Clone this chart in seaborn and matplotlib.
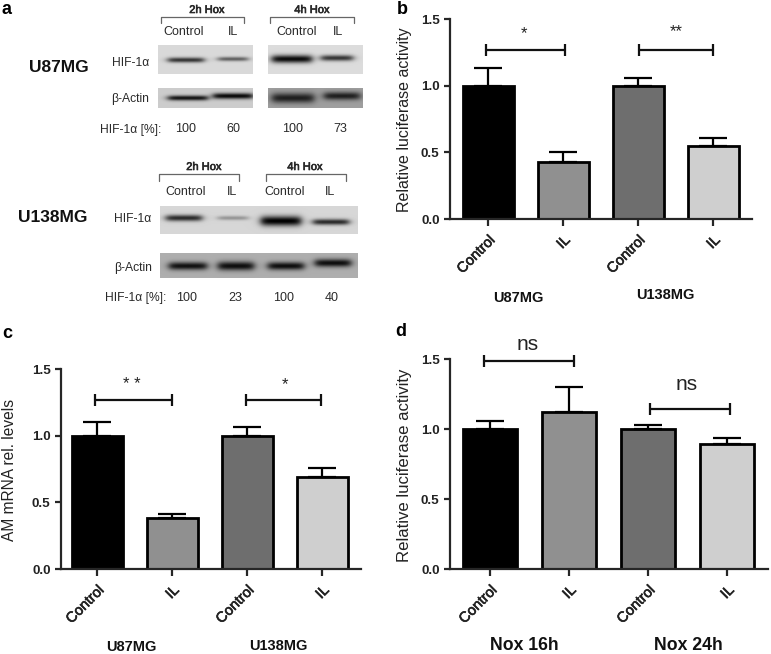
import matplotlib
matplotlib.use("Agg")
import matplotlib.pyplot as plt
import matplotlib.patheffects as pe
from matplotlib.transforms import ScaledTranslation
import seaborn as sns
import numpy as np
import pandas as pd

W, H = 771, 654

conditions = ["Control", "IL", "Control", "IL"]
bar_colors = ["#000000", "#909090", "#6e6e6e", "#cfcfcf"]

# panel b
b_mean = [1.0, 0.43, 1.0, 0.55]
b_top = [1.135, 0.50, 1.055, 0.61]
# panel c
c_mean = [1.0, 0.38, 1.0, 0.69]
c_top = [1.10, 0.41, 1.065, 0.76]
# panel d
d_mean = [1.0, 1.125, 1.0, 0.895]
d_top = [1.06, 1.30, 1.03, 0.935]

# panel a
hif_u87 = ["100", "60", "100", "73"]
hif_u138 = ["100", "23", "100", "40"]
yticks = [0.0, 0.5, 1.0, 1.5]

sns.set_theme(style="ticks")
plt.rcParams["font.family"] = ["Liberation Sans", "DejaVu Sans"]
plt.rcParams["axes.unicode_minus"] = False

fig = plt.figure(figsize=(W / 100, H / 100), dpi=100)
heavy = [pe.withStroke(linewidth=0.45, foreground="#222222")]


def px_axes(left, top, right, bottom):
    return fig.add_axes([left / W, 1 - bottom / H, (right - left) / W, (bottom - top) / H])


def bar_panel(rect, x0, step, means, tops, ylabel, ylab_x, ylab_y, ylab_fs, brackets, notes):
    ax = px_axes(*rect)
    ids = [f"{i}" for i in range(4)]
    df = pd.DataFrame({"id": ids, "v": means})
    sns.barplot(data=df, x="id", y="v", hue="id", order=ids, hue_order=ids, palette=bar_colors,
                width=0.68, edgecolor="black", linewidth=2, legend=False, saturation=1, ax=ax)
    xs = np.arange(4)
    ax.errorbar(xs, means, yerr=[np.zeros(4), np.array(tops) - np.array(means)], fmt="none",
                ecolor="black", elinewidth=1.6, capsize=10, capthick=1.6, zorder=1)
    # axis limits come from the pixel position of the first bar
    ax.set_xlim((rect[0] - x0) / step, (rect[2] - x0) / step)
    ax.set_ylim(0, 1.5)
    ax.set_yticks(yticks, [f"{t:.1f}" for t in yticks], fontsize=9.7, fontweight="bold", color="#222222")
    ax.set_xticks(xs)
    ax.set_xticklabels(conditions, rotation=45, ha="right", rotation_mode="anchor", fontsize=10.5, color="#222222")
    for lab in ax.get_xticklabels():
        lab.set_path_effects(heavy)
        lab.set_transform(lab.get_transform() + ScaledTranslation(-3 / 72, 0, fig.dpi_scale_trans))
    ax.tick_params(axis="x", length=5, width=1.6, pad=5)
    ax.tick_params(axis="y", length=4.5, width=1.6, pad=3)
    ax.set_xlabel("")
    ax.set_ylabel("")
    sns.despine(ax=ax)
    for s in ["left", "bottom"]:
        ax.spines[s].set_linewidth(1.6)
    fig.text(ylab_x / W, 1 - ylab_y / H, ylabel, rotation=90, ha="center", va="center",
             fontsize=ylab_fs, color="#222222")
    for xa, xb, y in brackets:
        ax.plot([xa, xb], [y, y], color="#111111", lw=1.6, clip_on=False)
        ax.plot([xa, xb], [y, y], ls="none", marker="|", ms=8.5, mew=1.6, color="#111111", clip_on=False)
    for x, y, s, fs in notes:
        ax.text(x, y, s, ha="center", va="center", fontsize=fs, color="#222222", clip_on=False)
    return ax


bar_panel((450, 19, 752, 219), 488, 75, b_mean, b_top, "Relative luciferase activity", 405, 120, 11.5,
          [(-0.03, 1.02, 1.265), (2.01, 3.0, 1.265)],
          [(0.475, 1.39, "*", 12), (2.51, 1.405, "**", 12)])
bar_panel((61, 369, 361, 569), 97, 75, c_mean, c_top, "AM mRNA rel. levels", 10, 470, 11.2,
          [(-0.03, 1.0, 1.265), (1.98, 2.99, 1.265)],
          [(0.46, 1.385, "* *", 12), (2.51, 1.385, "*", 12)])
bar_panel((450, 359, 768, 569), 490, 79, d_mean, d_top, "Relative luciferase activity", 405, 465.5, 12.1,
          [(-0.08, 1.06, 1.485), (2.03, 3.04, 1.143)],
          [(0.47, 1.60, "ns", 15), (2.49, 1.32, "ns", 15)])

# overlay in image pixels for the blot panel and free labels
ov = fig.add_axes([0, 0, 1, 1], zorder=5)
ov.patch.set_alpha(0)
ov.axis("off")


def blot(left, top, right, bottom, bg, bands):
    xx, yy = np.meshgrid(np.arange(left, right) + 0.5, np.arange(top, bottom) + 0.5)
    img = np.full(xx.shape, bg, dtype=float)
    for cx, cy, hw, th, dark in bands:
        edge = 1 / (1 + np.exp((np.abs(xx - cx) - hw) / 2.2))
        band = edge * np.exp(-((yy - cy) / th) ** 2)
        img = img * (1 - dark * band)
    ov.imshow(img, cmap="gray", vmin=0, vmax=1, extent=(left, right, bottom, top), aspect="auto",
              interpolation="bilinear")


blot(158, 45, 253, 74, 0.85, [(186, 60, 18, 2.6, 0.75), (233, 59, 15, 2.2, 0.55)])
blot(268, 45, 363, 74, 0.86, [(292, 59, 20, 4.0, 0.95), (337, 58, 16, 3.0, 0.75)])
blot(158, 88, 253, 108, 0.80, [(188, 98, 20, 2.6, 0.9), (233, 96, 20, 3.0, 0.95)])
blot(268, 88, 363, 108, 0.62, [(293, 98, 21, 5.0, 0.8), (342, 96, 18, 4.0, 0.8)])
blot(160, 206, 358, 234, 0.84, [(184, 218, 18, 3.2, 0.8), (233, 218, 15, 2.2, 0.3),
                                (281, 221, 20, 5.0, 1.0), (331, 222, 18, 3.0, 0.8)])
blot(160, 253, 358, 278, 0.68, [(188, 266, 19, 4.0, 0.9), (236, 266, 18, 4.5, 0.92),
                                (286, 266, 18, 4.0, 0.92), (333, 263, 18, 4.0, 0.92)])


def bracket(x1, x2, y1, y2):
    ov.plot([x1, x1, x2, x2], [y2, y1, y1, y2], color="#666666", lw=0.9)


bracket(161, 244, 17, 23)
bracket(270, 354, 17, 23)
bracket(159, 239, 174, 181)
bracket(266, 346, 174, 181)

col = "#2a2a2a"
for x, y, s in [(207, 10, "2h Hox"), (312, 10, "4h Hox"), (204, 167, "2h Hox"), (305, 167, "4h Hox")]:
    ov.text(x, y, s, ha="center", va="center", fontsize=8, color=col, path_effects=heavy)
for xs_a, y in [((184, 233, 297, 338), 32), ((186, 232, 285, 330), 192)]:
    for x, s in zip(xs_a, conditions):
        ov.text(x, y, s, ha="center", va="center", fontsize=9, color=col)
for x, y, s in [(131, 63, "HIF-1α"), (130, 99, "β-Actin"), (133, 219, "HIF-1α"), (133, 268, "β-Actin"),
                (131, 130, "HIF-1α [%]:"), (136, 298, "HIF-1α [%]:")]:
    ov.text(x, y, s, ha="center", va="center", fontsize=8.7, color=col)
for xs_a, y, vals in [((186, 233, 293, 340), 129, hif_u87), ((187, 235, 284, 332), 298, hif_u138)]:
    for x, s in zip(xs_a, vals):
        ov.text(x, y, s, ha="center", va="center", fontsize=9, color=col)
ov.text(59, 67, "U87MG", ha="center", va="center", fontsize=12.5, fontweight="semibold", color="#111111")
ov.text(53, 217, "U138MG", ha="center", va="center", fontsize=12.5, fontweight="semibold", color="#111111")

# panel letters
for x, y, s in [(6, 10, "a"), (402, 9, "b"), (7, 333, "c"), (401, 332, "d")]:
    ov.text(x, y, s, ha="center", va="center", fontsize=13, fontweight="bold", color="black")

# group labels under the bars
for x, y, s, fs in [(518, 298, "U87MG", 10.5), (665, 295, "U138MG", 10.5), (131, 647, "U87MG", 10.5),
                    (278, 646, "U138MG", 10.5), (524, 645, "Nox 16h", 12.7), (688, 645, "Nox 24h", 12.7)]:
    ov.text(x, y, s, ha="center", va="center", fontsize=fs, fontweight="bold", color="#111111")

ov.set_xlim(0, W)
ov.set_ylim(H, 0)

fig.savefig("out.png", dpi=100)
